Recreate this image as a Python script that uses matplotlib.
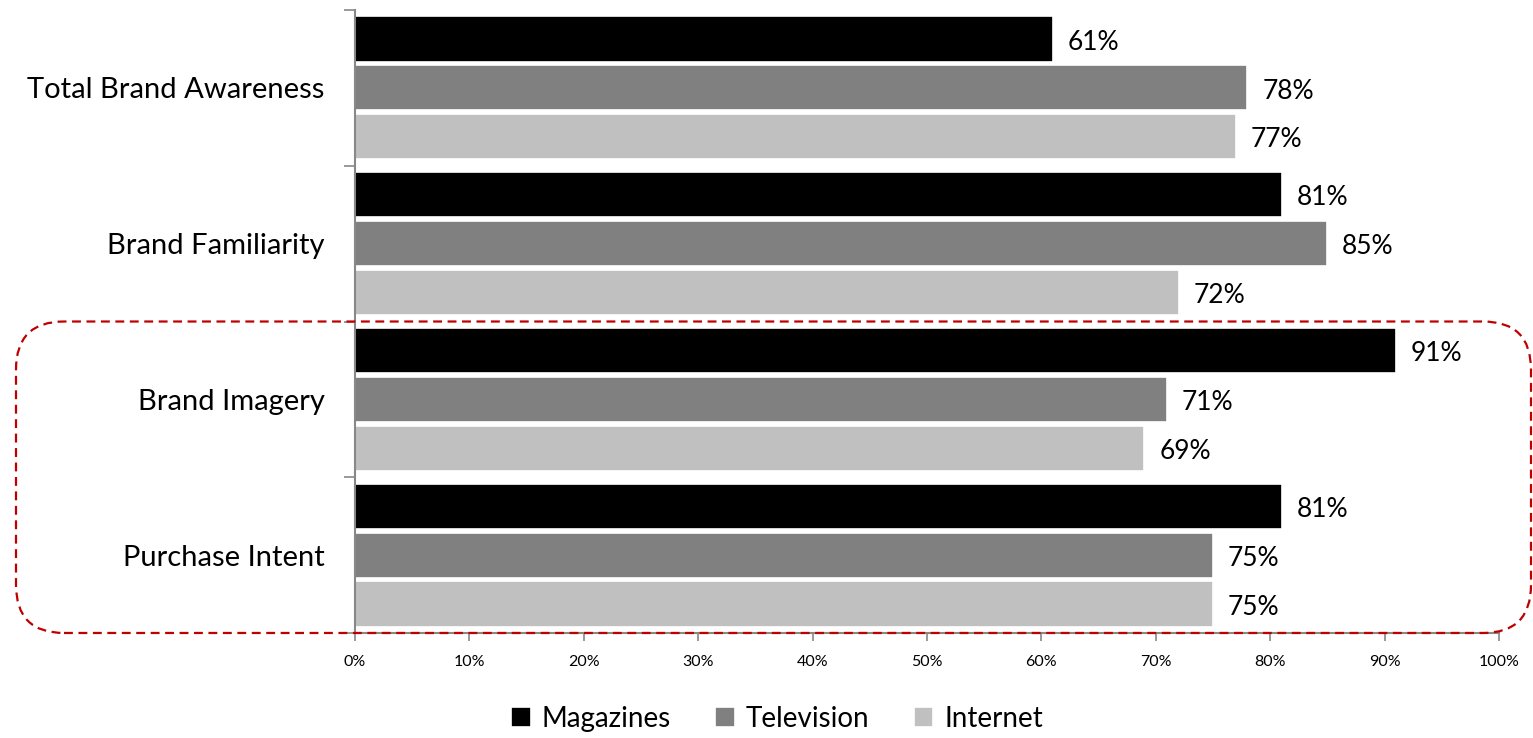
import numpy as np
import matplotlib
matplotlib.use("Agg")
import matplotlib.pyplot as plt
from matplotlib.patches import FancyBboxPatch
from matplotlib.ticker import FixedLocator

plt.rcParams['font.family'] = ['Lato', 'DejaVu Sans']

categories = ["Total Brand Awareness", "Brand Familiarity", "Brand Imagery", "Purchase Intent"]
series_names = ["Magazines", "Television", "Internet"]
magazines = [61, 81, 91, 81]
television = [78, 85, 71, 75]
internet = [77, 72, 69, 75]
colors = ["#000000", "#808080", "#C0C0C0"]

fig = plt.figure(figsize=(15.33, 7.38), dpi=100)
ax = fig.add_axes([0.2316, 0.1423, 0.9778 - 0.2316, 0.9864 - 0.1423])

y = np.arange(len(categories))
step = 0.314
height = 0.29
for i, (name, vals) in enumerate(zip(series_names, [magazines, television, internet])):
    pos = y + (i - 1) * step
    ax.barh(pos, vals, height=height, color=colors[i], edgecolor="white",
            linewidth=1.2, label=name)
    for p, v in zip(pos, vals):
        ax.text(v + 1.3, p + 0.02, f"{v}%", va="center", ha="left", fontsize=19)

ax.set_xlim(0, 100)
ax.set_ylim(3.5, -0.5)
ax.set_xticks(np.arange(0, 101, 10))
ax.set_xticklabels([f"{t}%" for t in range(0, 101, 10)], fontsize=11.5)
ax.set_yticks(y)
ax.set_yticklabels(categories, fontsize=21)
ax.yaxis.set_minor_locator(FixedLocator(np.arange(-0.5, 4, 1)))
ax.tick_params(axis="y", which="major", length=0, pad=22)
ax.tick_params(axis="y", which="minor", length=8, color="#888888", width=1.2)
ax.tick_params(axis="x", length=6, color="#888888", width=1.2, pad=10)

for s in ["top", "right"]:
    ax.spines[s].set_visible(False)
for s in ["left", "bottom"]:
    ax.spines[s].set_color("#888888")
    ax.spines[s].set_linewidth(1.5)

# highlight box round the last two categories
fig.canvas.draw()
_, ytop = ax.transData.transform((0, 1.5))
_, ybot = ax.transData.transform((0, 3.5))
box = FancyBboxPatch((16, ybot), 1515, ytop - ybot,
                     boxstyle="round,pad=0,rounding_size=48",
                     transform=None, fill=False, edgecolor="#C00000",
                     linestyle=(0, (4, 2.5)), linewidth=1.6, clip_on=False)
fig.patches.append(box)

handles, labels = ax.get_legend_handles_labels()
fig.legend(handles, labels, loc="center", bbox_to_anchor=(0.507, 0.026),
           ncol=3, frameon=False, fontsize=20, handlelength=0.7, handleheight=0.7,
           handletextpad=0.4, columnspacing=1.6)

fig.savefig("out.png", dpi=100)
